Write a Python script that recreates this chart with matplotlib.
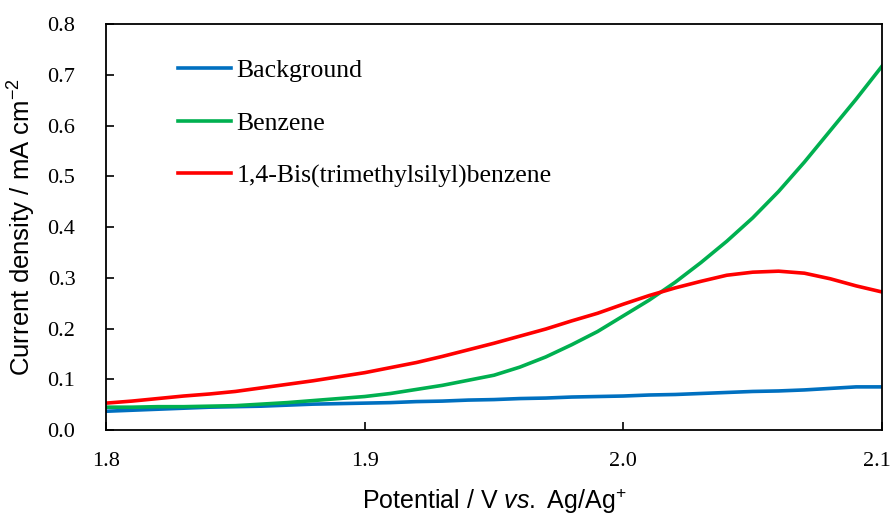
import numpy as np
import matplotlib.pyplot as plt
import matplotlib.transforms as mtransforms

# potential (V vs. Ag/Ag+)
potential = [1.80, 1.81, 1.82, 1.83, 1.84, 1.85, 1.86, 1.87, 1.88, 1.89,
             1.90, 1.91, 1.92, 1.93, 1.94, 1.95, 1.96, 1.97, 1.98, 1.99,
             2.00, 2.01, 2.02, 2.03, 2.04, 2.05, 2.06, 2.07, 2.08, 2.09, 2.10]

# current density (mA cm-2)
background = [0.037, 0.039, 0.041, 0.043, 0.045, 0.046, 0.047, 0.049, 0.051, 0.052,
              0.053, 0.054, 0.056, 0.057, 0.059, 0.060, 0.062, 0.063, 0.065, 0.066,
              0.067, 0.069, 0.070, 0.072, 0.074, 0.076, 0.077, 0.079, 0.082, 0.085, 0.085]
benzene = [0.045, 0.045, 0.046, 0.046, 0.047, 0.048, 0.051, 0.054, 0.058, 0.062,
           0.066, 0.072, 0.080, 0.088, 0.098, 0.108, 0.124, 0.144, 0.168, 0.194,
           0.225, 0.256, 0.291, 0.330, 0.372, 0.418, 0.470, 0.528, 0.590, 0.652, 0.717]
bis_tms = [0.053, 0.057, 0.062, 0.067, 0.071, 0.076, 0.083, 0.090, 0.097, 0.105,
           0.113, 0.123, 0.133, 0.145, 0.158, 0.171, 0.185, 0.199, 0.215, 0.230,
           0.248, 0.265, 0.280, 0.293, 0.305, 0.311, 0.313, 0.309, 0.298, 0.284, 0.272]

labels = ["Background", "Benzene", "1,4-Bis(trimethylsilyl)benzene"]
xticks = [1.8, 1.9, 2.0, 2.1]
yticks = [0.0, 0.1, 0.2, 0.3, 0.4, 0.5, 0.6, 0.7, 0.8]

plt.rcParams['mathtext.fontset'] = 'custom'
plt.rcParams['mathtext.rm'] = 'Liberation Sans'
plt.rcParams['mathtext.it'] = 'Liberation Sans:italic'

fig = plt.figure(figsize=(8.94, 5.15), dpi=100)
ax = fig.add_axes([0.1186, 0.165, 0.868, 0.7884])

ax.plot(potential, background, color='#0070C0', lw=2.6, label=labels[0])
ax.plot(potential, benzene, color='#00B050', lw=2.6, label=labels[1])
ax.plot(potential, bis_tms, color='#FF0000', lw=2.6, label=labels[2])

ax.set_xlim(1.8, 2.1)
ax.set_ylim(0, 0.8)
ax.set_xticks(xticks)
ax.set_yticks(yticks)
ax.set_xticklabels([f"{v:.1f}" for v in xticks])
ax.set_yticklabels([f"{v:.1f}" for v in yticks])
ax.tick_params(axis='both', labelsize=16, labelfontfamily='Liberation Serif')
ax.tick_params(axis='x', direction='in', length=6, width=1.2, pad=16)
ax.tick_params(axis='y', direction='in', length=6, width=1.2, pad=22)
for s in ax.spines.values():
    s.set_linewidth(1.3)

# nudge the last x label a little so it is not cut at the figure edge
last = ax.get_xticklabels()[-1]
last.set_transform(last.get_transform() + mtransforms.ScaledTranslation(-4 / 72, 0, fig.dpi_scale_trans))

ax.set_xlabel(r"Potential / V $\it{vs.}$ Ag/Ag$^{+}$", family='Liberation Sans', fontsize=18, labelpad=11)
ax.set_ylabel(r"Current density / mA cm$^{-2}$", family='Liberation Sans', fontsize=18.5, labelpad=7)

ax.legend(frameon=False, loc='upper left', bbox_to_anchor=(0.063, 0.97),
          prop={'family': 'Liberation Serif', 'size': 18.5},
          handlelength=2.05, handletextpad=0.22, labelspacing=1.15)

plt.savefig("out.png", dpi=100)
